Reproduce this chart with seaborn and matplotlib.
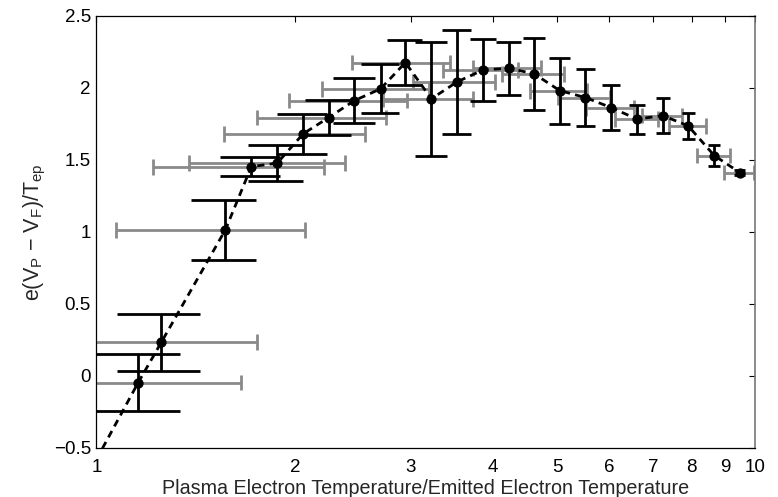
import numpy as np
import pandas as pd
import matplotlib
matplotlib.use('Agg')
import matplotlib.pyplot as plt
import seaborn as sns

temp_ratio = [1.157, 1.254, 1.569, 1.718, 1.880, 2.059, 2.251, 2.463, 2.698, 2.943,
              3.222, 3.527, 3.862, 4.224, 4.619, 5.047, 5.521, 6.040, 6.614, 7.234,
              7.905, 8.660, 9.467]
potential = [-0.047, 0.232, 1.014, 1.453, 1.477, 1.681, 1.794, 1.912, 1.993, 2.176,
             1.924, 2.042, 2.125, 2.137, 2.097, 1.981, 1.933, 1.863, 1.783, 1.808,
             1.736, 1.530, 1.412]
potential_err = [0.200, 0.200, 0.210, 0.067, 0.123, 0.137, 0.123, 0.156, 0.170, 0.156,
                 0.395, 0.362, 0.215, 0.183, 0.252, 0.230, 0.195, 0.157, 0.100, 0.120,
                 0.090, 0.072, 0.015]
ratio_err = [0.5] * 23

# Anfang der gestrichelten Linie (unterhalb des Bildrands)
line_start = (1.0, -0.58)

x_ticks = [1, 2, 3, 4, 5, 6, 7, 8, 9, 10]
x_labels = ['1', '2', '3', '4', '5', '6', '7', '8', '9', '10']
y_ticks = [-0.5, 0, 0.5, 1, 1.5, 2, 2.5]
y_labels = ['\u22120.5', '0', '0.5', '1', '1.5', '2', '2.5']

df = pd.DataFrame({'ratio': temp_ratio, 'pot': potential,
                   'perr': potential_err, 'rerr': ratio_err})
line_df = pd.concat([pd.DataFrame({'ratio': [line_start[0]], 'pot': [line_start[1]]}),
                     df[['ratio', 'pot']]], ignore_index=True)

cap_x = 0.18   # halbe Breite der schwarzen Caps (Datenkoordinaten)
cap_y = 0.055  # halbe Hoehe der grauen Caps
gray = '#8a8a8a'

sns.set_style('white')
plt.rcParams['font.family'] = ['Liberation Sans', 'DejaVu Sans']
plt.rcParams['mathtext.fontset'] = 'custom'
plt.rcParams['mathtext.rm'] = 'Liberation Sans'
plt.rcParams['mathtext.it'] = 'Liberation Sans:italic'

fig = plt.figure(figsize=(7.78, 4.97), dpi=100)
ax = fig.add_axes([0.124, 0.099, 0.847, 0.869])
ax.set_xscale('log')

# graue horizontale Fehlerbalken
ax.hlines(df.pot, df.ratio - df.rerr, df.ratio + df.rerr, color=gray, lw=2, zorder=1)
ax.vlines(df.ratio - df.rerr, df.pot - cap_y, df.pot + cap_y, color=gray, lw=2, zorder=1)
ax.vlines(df.ratio + df.rerr, df.pot - cap_y, df.pot + cap_y, color=gray, lw=2, zorder=1)

# schwarze vertikale Fehlerbalken
ax.vlines(df.ratio, df.pot - df.perr, df.pot + df.perr, color='black', lw=2, zorder=2)
ax.hlines(df.pot - df.perr, df.ratio - cap_x, df.ratio + cap_x, color='black', lw=2, zorder=2)
ax.hlines(df.pot + df.perr, df.ratio - cap_x, df.ratio + cap_x, color='black', lw=2, zorder=2)

sns.lineplot(data=line_df, x='ratio', y='pot', sort=False, color='black', lw=2,
             linestyle=(0, (2.6, 1.9)), ax=ax, zorder=3)
sns.scatterplot(data=df, x='ratio', y='pot', color='black', s=55, edgecolor='black',
                linewidth=0, ax=ax, zorder=4)

ax.set_xlim(1, 10)
ax.set_ylim(-0.5, 2.5)
ax.set_xticks(x_ticks)
ax.set_xticklabels(x_labels)
ax.minorticks_off()
ax.set_yticks(y_ticks)
ax.set_yticklabels(y_labels)
ax.tick_params(direction='in', length=4, width=0.8, top=True, right=True,
               labelsize=13.5, colors='black')
ax.tick_params(axis='x', pad=8)
ax.tick_params(axis='y', pad=4)
for side in ['left', 'bottom', 'top']:
    ax.spines[side].set_color('black')
    ax.spines[side].set_linewidth(0.9)
ax.spines['right'].set_color('#777777')
ax.spines['right'].set_linewidth(1.2)

ax.set_xlabel('Plasma Electron Temperature/Emitted Electron Temperature', fontsize=14.2, labelpad=2.5)
ax.set_ylabel(r'e(V$_\mathrm{P}$ $-$ V$_\mathrm{F}$)/T$_\mathrm{ep}$', fontsize=15.5, labelpad=4)

fig.savefig('out.png', dpi=100)
